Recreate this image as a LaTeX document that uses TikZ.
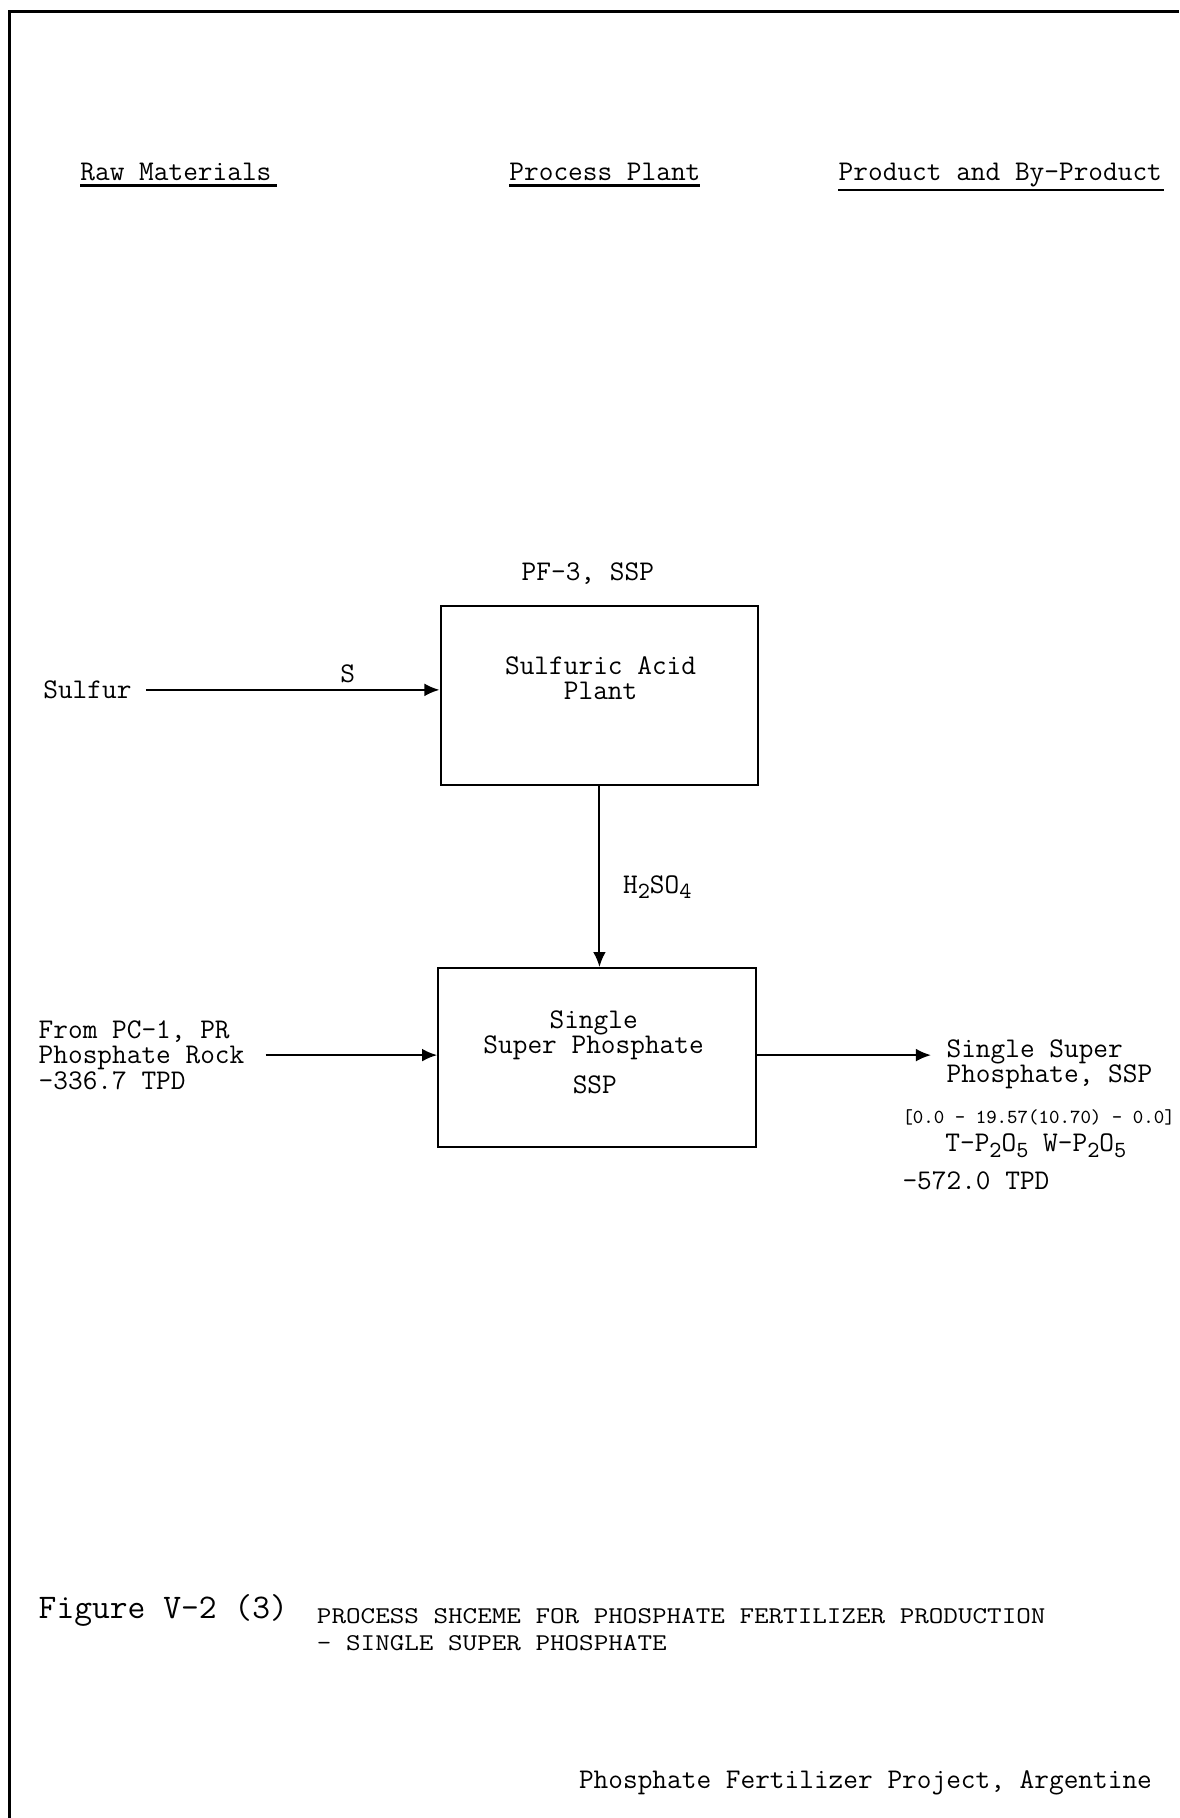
\documentclass[tikz,border=0pt]{standalone}
\usepackage{fontspec}
\usepackage{graphicx}
\usetikzlibrary{arrows.meta}
\newcommand{\dn}[1]{\raisebox{-0.45ex}{\fontsize{10}{10}\selectfont #1}}
\begin{document}
\begin{tikzpicture}[x=0.5pt,y=-0.5pt,
  txt/.style={inner sep=0pt,font=\ttfamily\fontsize{12.3}{11}\selectfont},
  big/.style={inner sep=0pt,font=\ttfamily\fontsize{14.9}{15}\selectfont},
  small/.style={inner sep=0pt,font=\ttfamily\fontsize{8.6}{9}\selectfont},
  captext/.style={inner sep=0pt,font=\ttfamily\fontsize{12.2}{12}\selectfont},
  procbox/.style={draw,line width=0.9pt,minimum width=137pt,minimum height=77pt,inner sep=0pt},
  arr/.style={line width=0.9pt,-{Latex[length=6.5pt,width=5.5pt]}},
  uline/.style={line width=1pt}]
\useasboundingbox (0,0) rectangle (1017,1568);
% frame
\draw[line width=1.3pt] (8,1568) -- (8,10) -- (1017,10);
% headers
\node[txt,anchor=west] (h1) at (69,148) {Raw Materials};
\node[txt,anchor=west] (h2) at (439,148) {Process Plant};
\node[txt,anchor=west] (h3) at (723,151) {Product and By-Product};
\draw[uline] (h1.west |- 0,160) -- (239,160);
\draw[uline] (h2.west |- 0,160) -- (604,160);
\draw[uline] (h3.west |- 0,164) -- (1004,164);
% boxes
\node[txt] (pf) at (507,495) {PF-3, SSP};
\node[procbox] (box1) at (517,600) {};
\node[txt,align=center] (b1) at (518,585) {Sulfuric Acid\\Plant};
\node[procbox] (box2) at (515,912) {};
\node[txt,align=center] (b2) at (512,893) {Single\\Super Phosphate};
\node[txt] (b2c) at (513,936) {SSP};
% sulfur
\node[txt,anchor=west] (sulfur) at (37,595) {Sulfur};
\draw[arr] ([xshift=6pt]sulfur.east) -- (sulfur.east -| box1.west);
\node[txt] (s) at (300,581) {S};
% H2SO4
\draw[arr] (box1.south) -- (box1.south |- box2.north);
\node[txt,anchor=west] (h2so4) at (537,765) {H\dn{2}SO\dn{4}};
% rock
\node[txt,anchor=west,align=left] (rock) at (33,910) {From PC-1, PR\\Phosphate Rock\\-336.7 TPD};
\draw[arr] ([xshift=9pt]rock.east) -- (rock.east -| box2.west);
% product
\node[txt,anchor=west,align=left] (prod) at (816,918) {Single Super\\Phosphate, SSP};
\coordinate (pin) at (803,910);
\draw[arr] (box2.east |- pin) -- (pin);
\node[small,anchor=west] (p3) at (778,964) {[0.0 - 19.57(10.70) - 0.0]};
\node[txt,anchor=west] (p4) at (815,988) {T-P\dn{2}O\dn{5} W-P\dn{2}O\dn{5}};
\node[txt,anchor=west] (p5) at (778,1018) {-572.0 TPD};
% caption
\node[big,anchor=west] (fig) at (33,1389) {Figure V-2 (3)};
\node[captext,anchor=west] (c1) at (273,1394) {\scalebox{1}[0.85]{PROCESS SHCEME FOR PHOSPHATE FERTILIZER PRODUCTION}};
\node[captext,anchor=west] (c2) at (273,1417) {\scalebox{1}[0.85]{- SINGLE SUPER PHOSPHATE}};
\node[txt,anchor=west] (proj) at (499,1538) {Phosphate Fertilizer Project, Argentine};
\end{tikzpicture}
\end{document}
